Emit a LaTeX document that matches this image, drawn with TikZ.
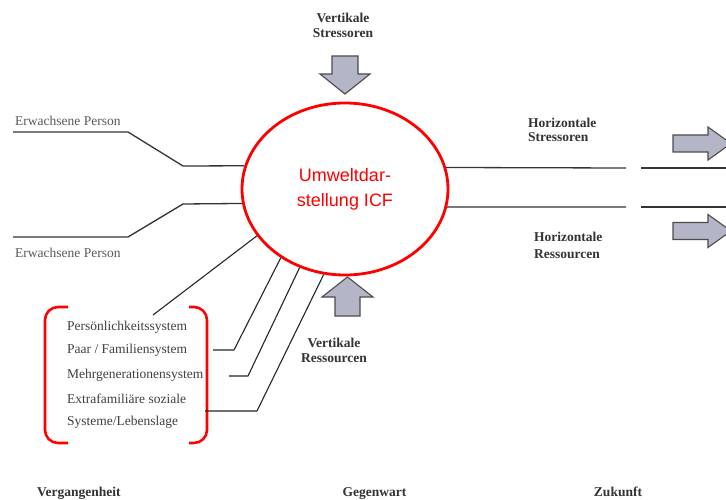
\documentclass[tikz,border=0pt]{standalone}
\usepackage{fontspec}
\usetikzlibrary{shapes.geometric}
\setmainfont{Liberation Serif}
\newfontfamily\icffont{Liberation Sans}
\begin{document}
\begin{tikzpicture}[x=1pt,y=-1pt,
  txt/.style={text=black!75, inner sep=0pt, font=\fontsize{13.5}{15.5}\selectfont},
  boldtxt/.style={text=black!80, inner sep=0pt, font=\bfseries\fontsize{13.5}{15.5}\selectfont, align=center},
  listtxt/.style={txt, anchor=west},
  timetxt/.style={boldtxt, anchor=base},
  link/.style={draw=black!80, line width=1.3pt},
  thinlink/.style={draw=black!85, line width=1.1pt},
  blockarrow/.style={fill=arrowfill, draw=black!70, line width=1.1pt, line join=miter},
  bracket/.style={draw=red, line width=2.6pt, rounded corners=13pt},
]
\definecolor{arrowfill}{RGB}{180,182,200}
\clip (0,0) rectangle (726,500);
\fill[white] (0,0) rectangle (726,500);

% central ellipse
\node[ellipse, draw=red, line width=2.8pt, minimum width=206pt, minimum height=172pt,
      text=red, align=center, font=\icffont\fontsize{18}{25}\selectfont]
  (icf) at (345,189) {Umweltdar-\\stellung ICF};

% adult persons on the left
\node[txt, anchor=west, text=black!65] (adult1) at (15,121) {Erwachsene Person};
\node[txt, anchor=west, text=black!65] (adult2) at (15,253) {Erwachsene Person};
\coordinate (a1s) at (13,132);
\coordinate (a1b) at (128,132);
\coordinate (a1c) at (183,166);
\coordinate (a2s) at (13,237);
\coordinate (a2b) at (128,237);
\coordinate (a2c) at (183,204);
\draw[link] (a1s) -- (a1b) -- (a1c) -- (icf.167);
\draw[link] (a2s) -- (a2b) -- (a2c) -- (icf.188);

% horizontal lines to the right
\coordinate (r1a) at (626,168);
\coordinate (r1b) at (641,168);
\coordinate (r1e) at (727,168);
\coordinate (r2a) at (626,207);
\coordinate (r2b) at (641,207);
\coordinate (r2e) at (727,207);
\draw[link] (icf.12) -- (r1a);
\draw[link] (r1b) -- (r1e);
\draw[link] (icf.-10) -- (r2a);
\draw[link] (r2b) -- (r2e);

\node[boldtxt, anchor=west, align=left, font=\bfseries\fontsize{13.5}{14.5}\selectfont] (hstress) at (528,130) {Horizontale\\Stressoren};
\node[boldtxt, anchor=west, align=left, font=\bfseries\fontsize{13.5}{17}\selectfont] (hress) at (534,245.5) {Horizontale\\Ressourcen};

% block arrows to the right
\draw[blockarrow] (673,135) -- (708,135) -- (708,127) -- (731,143.5) -- (708,160) -- (708,152) -- (673,152) -- cycle;
\draw[blockarrow] (673,222.5) -- (708,222.5) -- (708,214.5) -- (731,231) -- (708,247.5) -- (708,239.5) -- (673,239.5) -- cycle;

% vertical stressors
\node[boldtxt] (vstress) at (343,25.5) {Vertikale\\Stressoren};
\draw[blockarrow] (332,56) -- (358,56) -- (358,74) -- (370,74) -- (345,94) -- (320,74) -- (332,74) -- cycle;

% vertical resources
\draw[blockarrow] (335,316) -- (360,316) -- (360,297) -- (373,297) -- (347.5,277) -- (322,297) -- (335,297) -- cycle;
\node[boldtxt] (vress) at (334,350.5) {Vertikale\\Ressourcen};

% list of systems
\node[listtxt] (pers) at (67,327) {Persönlichkeitssystem};
\node[listtxt] (paar) at (67,350) {Paar / Familiensystem};
\node[listtxt] (mehr) at (67,375) {Mehrgenerationensystem};
\node[listtxt] (extra) at (67,398.5) {Extrafamiliäre soziale};
\node[listtxt] (syst) at (67,422) {Systeme/Lebenslage};

\draw[bracket] (68,307) -- (45,307) -- (45,443) -- (68,443);
\draw[bracket] (189,307) -- (207,307) -- (207,443) -- (189,443);

% connectors between ellipse and the systems
\coordinate (pe) at (153,315);
\coordinate (l1b) at (234,350);
\coordinate (l1e) at (213,350);
\coordinate (l2b) at (248,376);
\coordinate (l2e) at (229,376);
\coordinate (l3b) at (257,411);
\coordinate (l3e) at (205,411);
\draw[thinlink] (icf.208) -- (pe);
\draw[thinlink] (icf.227) -- (l1b) -- (l1e);
\draw[thinlink] (icf.240) -- (l2b) -- (l2e);
\draw[thinlink] (icf.256) -- (l3b) -- (l3e);

% time axis labels
\node[timetxt, anchor=base west] (past) at (37,496) {Vergangenheit};
\node[timetxt] (now) at (374.5,496) {Gegenwart};
\node[timetxt] (future) at (618,496) {Zukunft};
\end{tikzpicture}
\end{document}
